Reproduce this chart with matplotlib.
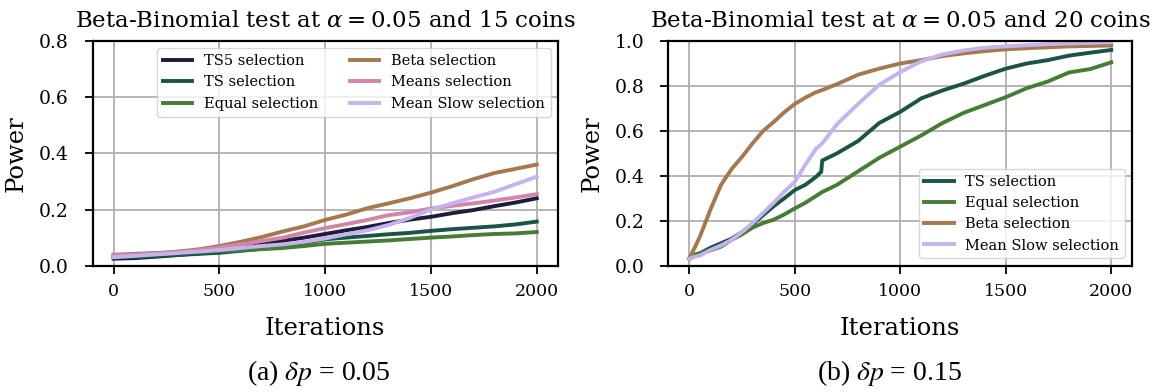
import numpy as np
import matplotlib
matplotlib.use("Agg")
import matplotlib.pyplot as plt

plt.rcParams["font.family"] = "DejaVu Serif"
plt.rcParams["mathtext.fontset"] = "dejavuserif"

# (a) delta p = 0.05, 15 coins
iters_a = [0, 100, 200, 300, 400, 500, 600, 700, 800, 900, 1000,
           1100, 1200, 1300, 1400, 1500, 1600, 1700, 1800, 1900, 2000]
ts5_a = [0.025, 0.027, 0.032, 0.038, 0.044, 0.050, 0.062, 0.075, 0.088, 0.100, 0.113,
         0.126, 0.138, 0.152, 0.164, 0.174, 0.187, 0.198, 0.212, 0.225, 0.240]
ts_a = [0.030, 0.031, 0.034, 0.038, 0.042, 0.046, 0.053, 0.060, 0.070, 0.082, 0.094,
        0.100, 0.106, 0.112, 0.117, 0.124, 0.130, 0.135, 0.140, 0.147, 0.157]
equal_a = [0.038, 0.042, 0.045, 0.048, 0.050, 0.052, 0.055, 0.059, 0.063, 0.070, 0.078,
           0.082, 0.086, 0.090, 0.095, 0.100, 0.104, 0.109, 0.113, 0.115, 0.120]
beta_a = [0.035, 0.038, 0.043, 0.050, 0.058, 0.070, 0.085, 0.102, 0.122, 0.140, 0.163,
          0.182, 0.205, 0.222, 0.240, 0.260, 0.283, 0.308, 0.330, 0.345, 0.360]
means_a = [0.040, 0.040, 0.043, 0.048, 0.055, 0.065, 0.076, 0.088, 0.100, 0.118, 0.134,
           0.148, 0.163, 0.180, 0.190, 0.204, 0.213, 0.222, 0.232, 0.243, 0.255]
slow_a = [0.030, 0.035, 0.040, 0.045, 0.050, 0.056, 0.063, 0.070, 0.076, 0.085, 0.097,
          0.112, 0.126, 0.145, 0.170, 0.200, 0.222, 0.243, 0.263, 0.290, 0.317]

# (b) delta p = 0.15, 20 coins
iters_b = [0, 25, 50, 100, 150, 200, 250, 300, 350, 400, 450, 500, 550, 600, 625, 630,
           700, 800, 900, 1000, 1100, 1200, 1300, 1400, 1500, 1600, 1700, 1800, 1900, 2000]
ts_b = [0.030, 0.045, 0.055, 0.080, 0.100, 0.120, 0.150, 0.185, 0.225, 0.265, 0.300, 0.337,
        0.360, 0.395, 0.418, 0.468, 0.500, 0.555, 0.635, 0.685, 0.745, 0.780, 0.810, 0.845,
        0.877, 0.900, 0.915, 0.935, 0.948, 0.960]
equal_b = [0.030, 0.050, 0.055, 0.068, 0.085, 0.115, 0.140, 0.170, 0.190, 0.205, 0.228, 0.255,
           0.280, 0.310, 0.325, 0.328, 0.360, 0.420, 0.480, 0.530, 0.580, 0.635, 0.680, 0.715,
           0.750, 0.790, 0.820, 0.860, 0.875, 0.905]
beta_b = [0.035, 0.080, 0.130, 0.250, 0.360, 0.430, 0.485, 0.545, 0.600, 0.640, 0.683, 0.720,
          0.748, 0.772, 0.780, 0.782, 0.808, 0.850, 0.877, 0.900, 0.915, 0.933, 0.945, 0.955,
          0.963, 0.968, 0.972, 0.976, 0.978, 0.980]
slow_b = [0.030, 0.040, 0.045, 0.070, 0.090, 0.115, 0.150, 0.190, 0.235, 0.280, 0.330, 0.373,
          0.450, 0.520, 0.540, 0.545, 0.630, 0.720, 0.805, 0.862, 0.910, 0.940, 0.958, 0.970,
          0.976, 0.981, 0.986, 0.989, 0.992, 0.995]

labels = ["TS5 selection", "TS selection", "Equal selection",
          "Beta selection", "Means selection", "Mean Slow selection"]
colors = ["#1e1b3c", "#1a5449", "#477c34", "#a6784e", "#d484a8", "#c5b3ee"]


def style_axes(ax, ymax, title):
    ax.set_xlim(-100, 2100)
    ax.set_ylim(0, ymax)
    ax.set_xticks([0, 500, 1000, 1500, 2000])
    ax.set_yticks(np.arange(0, ymax + 0.01, 0.2))
    ax.yaxis.set_major_formatter(matplotlib.ticker.FormatStrFormatter("%.1f"))
    ax.grid(True, color="#b0b0b0", linewidth=1.3)
    ax.set_axisbelow(True)
    for s in ax.spines.values():
        s.set_linewidth(1.6)
        s.set_color("black")
    ax.tick_params(axis="both", direction="out", length=6, width=1.3)
    ax.tick_params(axis="x", labelsize=12.5, pad=6.5)
    ax.tick_params(axis="y", labelsize=13.5, pad=11)
    ax.set_xlabel("Iterations", fontsize=17.5, labelpad=12)
    ax.set_ylabel("Power", fontsize=17.5, labelpad=8)
    ax.set_title(title, fontsize=16.5, pad=10)


fig = plt.figure(figsize=(11.64, 3.92), dpi=100)
W, H = 1164, 392
ax1 = fig.add_axes([92.5 / W, 1 - 265.7 / H, 465.4 / W, 224.7 / H])
ax2 = fig.add_axes([668.3 / W, 1 - 265.7 / H, 464.0 / W, 224.7 / H])

series_a = [ts5_a, ts_a, equal_a, beta_a, means_a, slow_a]
for vals, lab, c in zip(series_a, labels, colors):
    ax1.plot(iters_a, vals, color=c, lw=2.8, label=lab)
style_axes(ax1, 0.8, r"Beta-Binomial test at $\alpha = 0.05$ and 15 coins")
ax1.legend(loc="upper right", ncol=2, fontsize=10.5, framealpha=0.8,
           columnspacing=2.2, handlelength=2.0, borderaxespad=0.5)

series_b = [(ts_b, 1), (equal_b, 2), (beta_b, 3), (slow_b, 5)]
for vals, k in series_b:
    ax2.plot(iters_b, vals, color=colors[k], lw=2.8, label=labels[k])
style_axes(ax2, 1.0, r"Beta-Binomial test at $\alpha = 0.05$ and 20 coins")
ax2.legend(loc="lower right", fontsize=10.5, framealpha=0.8,
           handlelength=2.0, borderaxespad=0.5)

fig.text(319 / W, 1 - 373 / H, r"(a) $\delta p$ = 0.05", ha="center", va="center",
         fontsize=20, family="Liberation Serif", math_fontfamily="stix")
fig.text(890 / W, 1 - 373 / H, r"(b) $\delta p$ = 0.15", ha="center", va="center",
         fontsize=20, family="Liberation Serif", math_fontfamily="stix")

fig.savefig("out.png", dpi=100)
